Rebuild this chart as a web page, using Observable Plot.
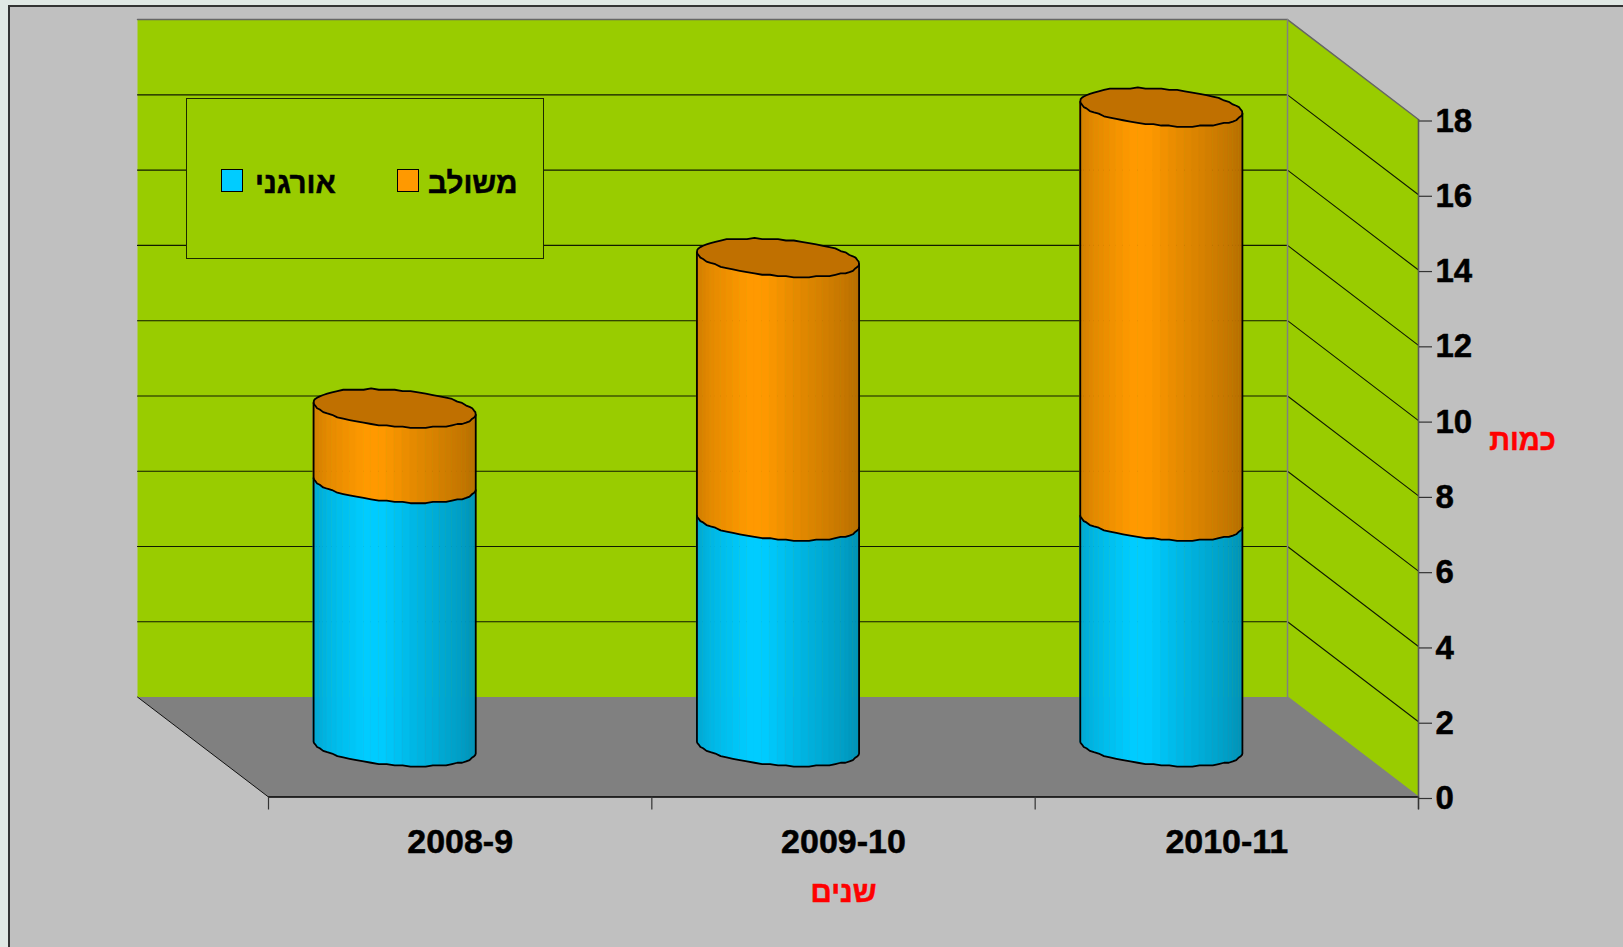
<!DOCTYPE html>
<html lang="he">
<head>
<meta charset="utf-8">
<style>
html,body{margin:0;padding:0;width:1623px;height:947px;overflow:hidden;background:#e0e8e4;}
#panel{position:absolute;left:8px;top:5px;width:1700px;height:1100px;background:#c0c0c0;border:2px solid #333;box-sizing:border-box;}
#chart{position:absolute;left:0;top:0;}
#chart svg{background:transparent;overflow:visible;display:block;}
#legend{position:absolute;left:186px;top:98px;width:358px;height:161px;box-sizing:border-box;border:1.5px solid #1c2a00;background:#99cc00;font:bold 29.7px "Liberation Sans",Arial,sans-serif;color:#000;-webkit-text-stroke:0.5px #000;}
#legend .sw{position:absolute;top:70px;width:22px;height:23px;box-sizing:border-box;border:1.5px solid #000;}
#legend .lb{position:absolute;top:66px;line-height:36px;white-space:nowrap;direction:rtl;}
</style>
<script src="https://cdn.jsdelivr.net/npm/d3@7"></script>
<script src="https://cdn.jsdelivr.net/npm/@observablehq/plot@0.6"></script>
</head>
<body>
<div id="panel"></div>
<div id="chart"></div>
<div id="legend">
  <div class="sw" style="left:34px;background:#00ccff"></div>
  <div class="lb" style="left:68px">אורגני</div>
  <div class="sw" style="left:210px;background:#ff9900"></div>
  <div class="lb" style="left:241px">משולב</div>
</div>
<script>
const years = ["2008-9", "2009-10", "2010-11"];
const organic = [7, 6, 6];
const combined = [2, 7, 11];
const yTicks = [0, 2, 4, 6, 8, 10, 12, 14, 16, 18];
const gridValues = [2, 4, 6, 8, 10, 12, 14, 16];
const seriesColors = [[0, 204, 255], [255, 153, 0]];

// Oblique projection, in data units of the front plane
const depthX = -0.3417;   // categories shifted by the full depth
const depthY = 2.655;     // value units shifted by the full depth
const radiusX = 0.201;    // cylinder radius along the category axis
const radiusD = 0.1925;   // cylinder radius along the depth (fraction of full depth)
const facets = 32;
const snapY = 0.035;      // coarse vertex rounding, as in the low-res facets of the original

const project = (i, v, t) => {
  const d = 0.5 + radiusD * Math.sin(t);
  const off = Math.round(d * depthY / snapY) * snapY;
  return {x: i + 0.5 + radiusX * Math.cos(t) + d * depthX, y: v + off};
};
const skew = Math.atan2(radiusD * -depthX, radiusX);
const tLeft = Math.PI - skew;
const halfW = Math.hypot(radiusX, radiusD * -depthX);

const brightness = d3.scaleLinear()
  .domain([0, 0.1, 0.32, 0.42, 0.62, 0.9, 1])
  .range([0.82, 0.9, 1, 1, 0.9, 0.78, 0.72]);
const shade = (c, f) => {
  const b = brightness(f);
  return `rgb(${c.map(k => Math.round(k * b)).join(",")})`;
};

const strips = [], outlines = [], tops = [];
years.forEach((year, i) => {
  const cols = [
    {from: 0, to: organic[i], color: seriesColors[0], s: 0},
    {from: organic[i], to: organic[i] + combined[i], color: seriesColors[1], s: 1}
  ];
  const front = d3.range(facets + 1).map(k => tLeft + Math.PI * k / facets);
  const cx = project(i, 0, tLeft).x;
  cols.forEach(seg => {
    d3.range(facets).forEach(k => {
      const a = project(i, seg.from, front[k]), a2 = project(i, seg.to, front[k]);
      const b = project(i, seg.from, front[k + 1]), b2 = project(i, seg.to, front[k + 1]);
      const f = ((a.x + b.x) / 2 - cx) / (2 * halfW);
      const id = `${i}-${seg.s}-${k}`;
      const fill = shade(seg.color, f);
      strips.push({id, x: a.x, y1: a.y, y2: a2.y, fill});
      strips.push({id, x: b.x, y1: b.y, y2: b2.y, fill});
    });
  });
  const total = organic[i] + combined[i];
  // silhouette of the whole cylinder
  const sil = [project(i, total, tLeft), ...front.map(t => project(i, 0, t)), project(i, total, tLeft + Math.PI)];
  sil.forEach(p => outlines.push({...p, id: `sil${i}`}));
  // seam between the two segments
  front.forEach(t => outlines.push({...project(i, organic[i], t), id: `seam${i}`}));
  // top cap
  d3.range(2 * facets + 1).forEach(k => tops.push({...project(i, total, tLeft + Math.PI * k / facets), id: `top${i}`}));
});

// Room
const wallBack = [{x: depthX, y: depthY}, {x: 3 + depthX, y: depthY}, {x: 3 + depthX, y: 18 + depthY}, {x: depthX, y: 18 + depthY}, {x: depthX, y: depthY}];
const wallSide = [{x: 3 + depthX, y: depthY}, {x: 3, y: 0}, {x: 3, y: 18}, {x: 3 + depthX, y: 18 + depthY}, {x: 3 + depthX, y: depthY}];
const floor = [{x: depthX, y: depthY}, {x: 3 + depthX, y: depthY}, {x: 3, y: 0}, {x: 0, y: 0}, {x: depthX, y: depthY}];
const grid = gridValues.flatMap(v => [
  {x: depthX, y: v + depthY, v}, {x: 3 + depthX, y: v + depthY, v}, {x: 3, y: v, v}
]);
const topEdge = [{x: depthX, y: 18 + depthY}, {x: 3 + depthX, y: 18 + depthY}, {x: 3, y: 18}];
const sideEdge = [{x: 3 + depthX, y: 18 + depthY}, {x: 3 + depthX, y: depthY}, {x: 3, y: 0}];
const floorLeft = [{x: depthX, y: depthY}, {x: 0, y: 0}];

const chart = Plot.plot({
  width: 1623, height: 947,
  marginLeft: 268, marginRight: 205, marginTop: 119, marginBottom: 150.5,
  style: {fontFamily: '"Liberation Sans", Arial, sans-serif', background: "transparent", overflow: "visible"},
  x: {domain: [0, 3]},
  y: {domain: [0, 18]},
  color: {type: "identity"},
  marks: [
    Plot.line(wallBack, {x: "x", y: "y", fill: "#99cc00", stroke: "none"}),
    Plot.line(wallSide, {x: "x", y: "y", fill: "#99cc00", stroke: "none"}),
    Plot.line(floor, {x: "x", y: "y", fill: "#808080", stroke: "none"}),
    Plot.line(grid, {x: "x", y: "y", z: "v", stroke: "#101a00", strokeWidth: 1.1}),
    Plot.line(topEdge, {x: "x", y: "y", stroke: "#666", strokeWidth: 1.5}),
    Plot.line(sideEdge, {x: "x", y: "y", stroke: "#808080", strokeWidth: 1.5}),
    Plot.line(floorLeft, {x: "x", y: "y", stroke: "#111", strokeWidth: 1}),
    Plot.ruleY([0], {x1: 0, x2: 3, stroke: "#000", strokeWidth: 1.5}),
    Plot.ruleX([3], {y1: -0.34, y2: 18, stroke: "#5a5a5a", strokeWidth: 1.6}),
    Plot.axisX({ticks: [0, 1, 2, 3], tickFormat: () => "", tickSize: 13, stroke: "#333", strokeWidth: 1.2, label: null}),
    Plot.axisX({ticks: [0.5, 1.5, 2.5], tickFormat: d => years[Math.floor(d)], tickSize: 0, tickPadding: 32, fontSize: 34, fontWeight: "bold", fill: "#000", label: null}),
    Plot.axisY({anchor: "right", ticks: yTicks, tickSize: 13, tickPadding: 4, fontSize: 33, fontWeight: "bold", fill: "#000", stroke: "#333", strokeWidth: 1.2, label: null, dy: 1.5}),
    Plot.area(strips, {x1: "x", y1: "y1", y2: "y2", z: "id", fill: "fill", stroke: "fill", strokeWidth: 0.6}),
    Plot.line(tops, {x: "x", y: "y", z: "id", fill: "#c07000", stroke: "#000", strokeWidth: 1.8}),
    Plot.line(outlines, {x: "x", y: "y", z: "id", stroke: "#000", strokeWidth: 1.8}),
    Plot.text(["שנים"], {x: 1.5, y: 0, dy: 96, fill: "#ff0000", fontSize: 29.5, fontWeight: "bold"}),
    Plot.text(["כמות"], {x: 3, y: 9.5, dx: 104, dy: 1, fill: "#ff0000", fontSize: 29, fontWeight: "bold"})
  ]
});
document.getElementById("chart").appendChild(chart);
// the original's labels are a touch heavier than the plain bold face
chart.querySelectorAll("text").forEach(t => {
  t.style.stroke = getComputedStyle(t).fill;
  t.style.strokeWidth = "0.5px";
});
</script>
</body>
</html>
